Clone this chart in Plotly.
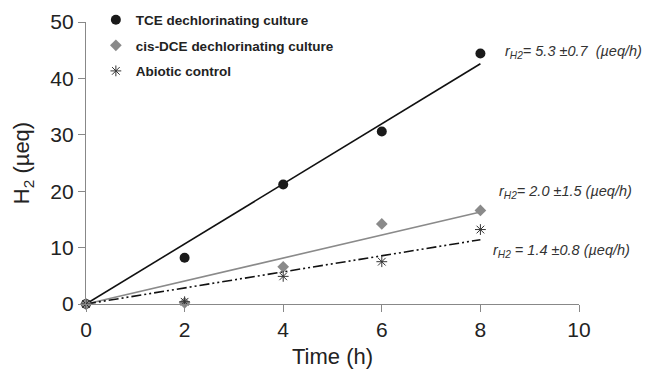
import plotly.graph_objects as go

time_h = [0, 2, 4, 6, 8]
tce = [0, 8.2, 21.2, 30.6, 44.4]
dce = [0, 0.2, 6.6, 14.2, 16.6]
abiotic = [0, 0.4, 4.9, 7.5, 13.2]

fit_x = [0, 8]
tce_fit = [0, 42.6]
dce_fit = [0, 16.3]
abiotic_fit = [0, 11.4]

rate_labels = [
    "r<sub>H2</sub>= 5.3 ±0.7  (µeq/h)",
    "r<sub>H2</sub>= 2.0 ±1.5 (µeq/h)",
    "r<sub>H2</sub> = 1.4 ±0.8 (µeq/h)",
]
rate_pos_x = [8.45, 8.33, 8.22]
rate_pos_y = [44.6, 19.8, 9.4]

FONT = "Liberation Sans, Arial, sans-serif"
fig = go.Figure()

fig.add_trace(go.Scatter(x=fit_x, y=tce_fit, mode="lines", line=dict(color="#111111", width=1.6),
                         showlegend=False, hoverinfo="skip"))
fig.add_trace(go.Scatter(x=fit_x, y=dce_fit, mode="lines", line=dict(color="#8a8a8a", width=1.6),
                         showlegend=False, hoverinfo="skip"))
fig.add_trace(go.Scatter(x=fit_x, y=abiotic_fit, mode="lines",
                         line=dict(color="#111111", width=1.6, dash="10px,3px,2px,3px,2px,3px"),
                         showlegend=False, hoverinfo="skip"))

fig.add_trace(go.Scatter(x=time_h, y=tce, mode="markers", name="<b>TCE dechlorinating culture</b>",
                         marker=dict(symbol="circle", size=10, color="#1a1a1a"), legendgroup="a"))
fig.add_trace(go.Scatter(x=time_h, y=dce, mode="markers", name="<b>cis-DCE dechlorinating culture</b>",
                         marker=dict(symbol="diamond", size=9, color="#8a8a8a"), legendgroup="b"))
fig.add_trace(go.Scatter(x=time_h, y=abiotic, mode="markers", name="<b>Abiotic control</b>",
                         marker=dict(symbol="asterisk-open", size=9, color="#333333",
                                     line=dict(color="#333333", width=1)), legendgroup="c"))

for t, xx, yy in zip(rate_labels, rate_pos_x, rate_pos_y):
    fig.add_annotation(x=xx, y=yy, text="<i>" + t + "</i>", showarrow=False, xanchor="left",
                       yanchor="middle", font=dict(family=FONT, size=14.5, color="#333333"))

fig.update_traces(cliponaxis=False)

fig.update_layout(
    width=646, height=369,
    margin=dict(l=86, r=67, t=22, b=65, autoexpand=False),
    paper_bgcolor="white", plot_bgcolor="white",
    font=dict(family=FONT, color="#222222"),
    legend=dict(x=0.02, y=1.062, xanchor="left", yanchor="top", bgcolor="rgba(0,0,0,0)",
                font=dict(family=FONT, size=13.5, color="#222222"), tracegroupgap=5,
                itemwidth=30),
    xaxis=dict(range=[0, 10], tickvals=[0, 2, 4, 6, 8, 10], showgrid=False, zeroline=False,
               showline=True, linecolor="#888888", linewidth=1.2, ticks="outside", ticklen=7,
               tickcolor="#888888", tickfont=dict(size=21, color="#222222"), automargin=False,
               title=dict(text="Time (h)", font=dict(size=22, color="#222222"), standoff=9)),
    yaxis=dict(range=[0, 50], tickvals=[0, 10, 20, 30, 40, 50], showgrid=False, zeroline=False,
               showline=True, linecolor="#888888", linewidth=1.2, ticks="outside", ticklen=7,
               tickcolor="#888888", tickfont=dict(size=21, color="#222222"), automargin=False,
               title=dict(text="H<sub>2</sub> (µeq)", font=dict(size=22, color="#222222"), standoff=14)),
)

fig.write_html("out.html", config={"displayModeBar": False},
               post_script="document.body.style.margin='0';document.body.style.overflow='hidden';")
